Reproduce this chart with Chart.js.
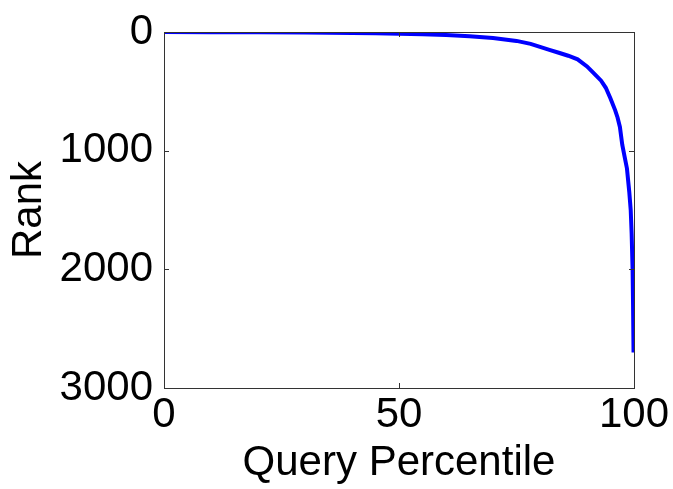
<!DOCTYPE html>
<html>
<head>
<meta charset="utf-8">
<title>Rank vs Query Percentile</title>
<script src="https://cdn.jsdelivr.net/npm/chart.js@4.4.1/dist/chart.umd.min.js"></script>
<style>
  html, body { margin: 0; padding: 0; background: #fff; }
  #wrap { width: 673px; height: 489px; }
</style>
</head>
<body>
<div id="wrap"><canvas id="chart" width="673" height="489"></canvas></div>
<script>
// query percentile (x) and the rank of the matching result (y)
const percentiles = [0, 10, 20, 30, 40, 45, 50, 55, 60, 65, 70, 75, 78, 80, 82, 84, 86, 88, 90, 91, 92, 93, 94, 95, 96, 96.5, 97, 97.5, 98, 98.5, 99, 99.3, 99.5, 99.7, 99.8, 99.9];
const ranks = [1, 2, 3, 5, 8, 10, 14, 18, 25, 35, 50, 75, 100, 125, 150, 175, 200, 230, 290, 330, 370, 410, 470, 560, 660, 720, 800, 950, 1050, 1150, 1350, 1500, 1700, 2000, 2300, 2700];
const xTicks = [0, 50, 100];
const yTicks = [0, 1000, 2000, 3000];

document.addEventListener('DOMContentLoaded', function() {
    showChart();
});

// box around the plot with small inward tick marks on all four sides
const boxPlugin = {
    id: 'box',
    afterDatasetsDraw(chart) {
        const ctx = chart.ctx;
        const a = chart.chartArea;
        const xs = chart.scales.x;
        const ys = chart.scales.y;
        ctx.save();
        ctx.strokeStyle = '#333';
        ctx.lineWidth = 1;
        ctx.strokeRect(a.left + 0.5, a.top + 0.5, a.right - a.left, a.bottom - a.top);
        ctx.beginPath();
        xTicks.forEach(v => {
            const px = Math.round(xs.getPixelForValue(v)) + 0.5;
            ctx.moveTo(px, a.bottom); ctx.lineTo(px, a.bottom - 5);
            ctx.moveTo(px, a.top); ctx.lineTo(px, a.top + 5);
        });
        yTicks.forEach(v => {
            const py = Math.round(ys.getPixelForValue(v)) + 0.5;
            ctx.moveTo(a.left, py); ctx.lineTo(a.left + 5, py);
            ctx.moveTo(a.right, py); ctx.lineTo(a.right - 5, py);
        });
        ctx.stroke();
        ctx.restore();
    }
};

function showChart() {
    const canvasChart = document.getElementById('chart')?.getContext('2d');
    if(canvasChart) {
        const tickFont = { family: '"Liberation Sans", Arial, sans-serif', size: 42, lineHeight: 1 };
        const titleFont = { family: '"Liberation Sans", Arial, sans-serif', size: 42 };
        new Chart(canvasChart, {
            type: 'line',
            data: {
                datasets: [
                    {
                        data: percentiles.map((p, i) => ({ x: p, y: ranks[i] })),
                        borderColor: '#0000ff',
                        borderWidth: 4,
                        pointRadius: 0,
                        tension: 0,
                        fill: false
                    }
                ]
            },
            options: {
                responsive: false,
                animation: false,
                layout: { padding: { top: 30, right: 39, left: 0, bottom: 0 } },
                plugins: {
                    legend: { display: false },
                    tooltip: { enabled: false }
                },
                scales: {
                    x: {
                        type: 'linear',
                        min: 0,
                        max: 100,
                        afterBuildTicks: scale => { scale.ticks = xTicks.map(v => ({ value: v })); },
                        afterFit: scale => {
                            scale.height = 101;
                            scale.paddingLeft = 0;
                            scale.paddingRight = 0;
                        },
                        grid: { display: false, drawTicks: false },
                        border: { display: false },
                        ticks: { color: '#000', font: tickFont, padding: 6, maxRotation: 0, callback: v => String(v) },
                        title: { display: true, text: 'Query Percentile', color: '#000', font: titleFont, padding: { top: 0, bottom: 0 } }
                    },
                    y: {
                        type: 'linear',
                        reverse: true,
                        min: 0,
                        max: 3000,
                        afterBuildTicks: scale => { scale.ticks = yTicks.map(v => ({ value: v })); },
                        afterFit: scale => { scale.width = 164; },
                        grid: { display: false, drawTicks: false },
                        border: { display: false },
                        ticks: { color: '#000', font: tickFont, padding: 11, callback: v => String(v) },
                        title: { display: true, text: 'Rank', color: '#000', font: titleFont, padding: { top: 4, bottom: 0 } }
                    }
                }
            },
            plugins: [boxPlugin]
        });
    };
};
</script>
</body>
</html>
